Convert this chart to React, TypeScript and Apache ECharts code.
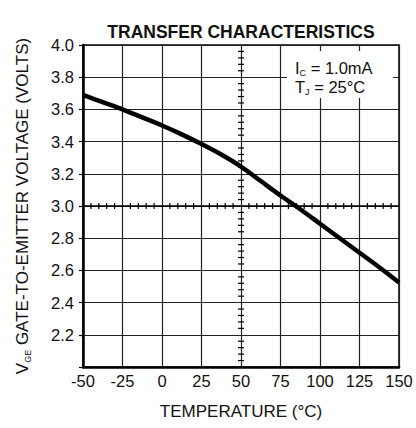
import React, { useEffect, useRef } from "react";
import * as echarts from "echarts";

const temperatures = [-50, -37.5, -25, -12.5, 0, 12.5, 25, 37.5, 50, 62.5, 75, 87.5, 100, 112.5, 125, 137.5, 150];
const vgeVolts = [3.69, 3.645, 3.6, 3.55, 3.5, 3.445, 3.385, 3.32, 3.245, 3.155, 3.065, 2.98, 2.89, 2.8, 2.71, 2.62, 2.525];
const xTickValues = [-50, -25, 0, 25, 50, 75, 100, 125, 150];
const yTickValues = [2.0, 2.2, 2.4, 2.6, 2.8, 3.0, 3.2, 3.4, 3.6, 3.8, 4.0];
const crossX = 50;
const crossY = 3.0;

const FONT = "'Liberation Sans', Arial, Helvetica, sans-serif";

export default function App() {
  const ref = useRef<HTMLDivElement>(null);
  useEffect(() => {
    document.body.style.margin = "0";
    if (!ref.current) return;
    const chart = echarts.init(ref.current, undefined, { renderer: "svg" });

    const hMinor: number[][] = [];
    for (let t = -50; t <= 150; t += 5) {
      if (t % 25 !== 0) hMinor.push([t, crossY]);
    }
    const vMinor: number[][] = [];
    for (let i = 1; i < 50; i++) {
      if (i % 5 !== 0) vMinor.push([crossX, +(2.0 + i * 0.04).toFixed(2)]);
    }

    chart.setOption({
      animation: false,
      backgroundColor: "#fff",
      grid: {
        left: 83,
        right: 17,
        top: 45,
        bottom: 61,
        show: true,
        borderColor: "#000",
        borderWidth: 1.5,
      },
      xAxis: {
        type: "value",
        min: xTickValues[0],
        max: xTickValues[xTickValues.length - 1],
        interval: 25,
        name: "TEMPERATURE (°C)",
        nameLocation: "middle",
        nameGap: 36,
        nameTextStyle: { fontFamily: FONT, fontSize: 17, color: "#111" },
        axisLine: { show: true, onZero: false, lineStyle: { color: "#000", width: 2.5 } },
        axisTick: { show: false },
        axisLabel: {
          fontFamily: FONT,
          fontSize: 16.5,
          color: "#111",
          margin: 5,
          formatter: (v: number) => String(v),
        },
        splitLine: { show: true, lineStyle: { color: "#222", width: 1.2 } },
      },
      yAxis: {
        type: "value",
        min: yTickValues[0],
        max: yTickValues[yTickValues.length - 1],
        interval: 0.2,
        name: "{v|V}{sub|GE} GATE-TO-EMITTER VOLTAGE (VOLTS)",
        nameLocation: "middle",
        nameGap: 51,
        nameTextStyle: {
          fontFamily: FONT,
          fontSize: 17,
          color: "#111",
          rich: {
            v: { fontFamily: FONT, fontSize: 17, color: "#111", lineHeight: 20 },
            sub: { fontFamily: FONT, fontSize: 9, color: "#111", verticalAlign: "bottom", lineHeight: 9 },
          },
        },
        axisLine: { show: true, onZero: false, lineStyle: { color: "#000", width: 2.5 } },
        axisTick: { show: true, inside: false, length: 4, lineStyle: { color: "#000", width: 1.2 } },
        axisLabel: {
          fontFamily: FONT,
          fontSize: 16.5,
          color: "#111",
          margin: 9,
          formatter: (v: number) => (Math.abs(v - 2.0) < 1e-6 ? "" : v.toFixed(1)),
        },
        splitLine: { show: true, lineStyle: { color: "#222", width: 1.2 } },
      },
      graphic: [
        {
          type: "text",
          x: 241,
          y: 32,
          style: {
            text: "TRANSFER CHARACTERISTICS",
            fontFamily: FONT,
            fontSize: 17.5,
            fontWeight: "bold",
            fill: "#111",
            align: "center",
            verticalAlign: "middle",
          },
        },
        {
          type: "rect",
          shape: { x: 287, y: 51, width: 106, height: 47 },
          style: { fill: "#fff" },
          z: 100,
        },
        {
          type: "text",
          x: 295,
          y: 68,
          z: 101,
          style: {
            text: "{m|I}{s|C}{m| = 1.0mA}",
            fill: "#111",
            verticalAlign: "middle",
            rich: {
              m: { fontFamily: FONT, fontSize: 16.5, fill: "#111", lineHeight: 18 },
              s: { fontFamily: FONT, fontSize: 9, fill: "#111", verticalAlign: "bottom", lineHeight: 9 },
            },
          },
        },
        {
          type: "text",
          x: 295,
          y: 87,
          z: 101,
          style: {
            text: "{m|T}{s|J}{m| = 25°C}",
            fill: "#111",
            verticalAlign: "middle",
            rich: {
              m: { fontFamily: FONT, fontSize: 16.5, fill: "#111", lineHeight: 18 },
              s: { fontFamily: FONT, fontSize: 9, fill: "#111", verticalAlign: "bottom", lineHeight: 9 },
            },
          },
        },
      ],
      series: [
        {
          type: "line",
          data: temperatures.map((t, i) => [t, vgeVolts[i]]),
          smooth: 0.3,
          showSymbol: false,
          lineStyle: { color: "#000", width: 4.5 },
          z: 5,
        },
        {
          type: "line",
          data: [
            [xTickValues[0], crossY],
            [xTickValues[xTickValues.length - 1], crossY],
          ],
          showSymbol: false,
          lineStyle: { color: "#000", width: 1.5 },
          z: 3,
        },
        {
          type: "custom",
          silent: true,
          z: 4,
          encode: { x: 0, y: 1 },
          data: hMinor,
          renderItem: (params: any, api: any) => {
            const p = api.coord([api.value(0), api.value(1)]);
            return {
              type: "line",
              shape: { x1: p[0], y1: p[1] - 3, x2: p[0], y2: p[1] + 3 },
              style: { stroke: "#000", lineWidth: 1.2 },
            };
          },
        },
        {
          type: "custom",
          silent: true,
          z: 4,
          encode: { x: 0, y: 1 },
          data: vMinor,
          renderItem: (params: any, api: any) => {
            const p = api.coord([api.value(0), api.value(1)]);
            return {
              type: "line",
              shape: { x1: p[0] - 3, y1: p[1], x2: p[0] + 3, y2: p[1] },
              style: { stroke: "#000", lineWidth: 1.2 },
            };
          },
        },
      ],
    });
    return () => chart.dispose();
  }, []);
  return <div ref={ref} style={{ width: 416, height: 428 }} />;
}
